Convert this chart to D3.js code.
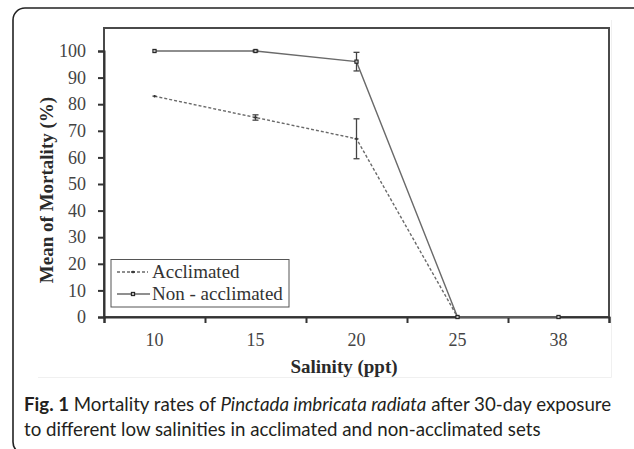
<!DOCTYPE html>
<html>
<head>
<meta charset="utf-8">
<script src="https://cdn.jsdelivr.net/npm/d3@7"></script>
<style>
  body { margin: 0; background: #fff; }
  svg { display: block; }
</style>
</head>
<body>
<div id="chart"></div>
<script>
// data
var salinity = ['10', '15', '20', '25', '38'];
var acclimated = [83, 75, 67, 0, null];
var acclimatedErr = [0, 1, 7.5, 0, null];
var nonAcclimated = [100, 100, 96, 0, 0];
var nonAcclimatedErr = [0, 0.3, 3.5, 0, 0];
var yTicks = [0, 10, 20, 30, 40, 50, 60, 70, 80, 90, 100];
var seriesNames = ['Acclimated', 'Non - acclimated'];

var width = 634, height = 449;
var margin = {top: 28, right: 25, bottom: 132, left: 104};

var svg = d3.select('#chart').append('svg')
    .attr('width', width)
    .attr('height', height);

// outer rounded figure box (runs off the right edge like the source)
svg.append('rect')
    .attr('x', 13).attr('y', 8)
    .attr('width', 640).attr('height', 446)
    .attr('rx', 12)
    .attr('fill', 'none')
    .attr('stroke', '#222')
    .attr('stroke-width', 1.6);

// faint edge of the embedded chart image
svg.append('path')
    .attr('d', 'M38,377.5H611.5V20')
    .attr('fill', 'none')
    .attr('stroke', '#f0f0f0')
    .attr('stroke-width', 1);

var x0 = margin.left, x1 = width - margin.right;
var y0 = height - margin.bottom, y1 = margin.top;

var xScale = d3.scaleBand().domain(salinity).range([x0, x1]).padding(0);
var xEdges = d3.scaleLinear().domain([0, salinity.length]).range([x0, x1]);
var yScale = d3.scaleLinear().domain([0, 100]).range([y0, 51]);

function cx(i) { return xScale(salinity[i]) + xScale.bandwidth() / 2; }

// plot frame
svg.append('rect')
    .attr('x', x0).attr('y', y1)
    .attr('width', x1 - x0).attr('height', y0 - y1)
    .attr('fill', 'none')
    .attr('stroke', '#4a4a4a')
    .attr('stroke-width', 2);

// y axis
var yAxis = svg.append('g')
    .attr('transform', `translate(${x0},0)`)
    .call(d3.axisLeft(yScale).tickValues(yTicks).tickSize(6).tickPadding(12));
yAxis.select('.domain').attr('stroke', '#333').attr('stroke-width', 2);
yAxis.selectAll('.tick line').attr('stroke', '#333').attr('stroke-width', 2);
yAxis.selectAll('.tick text')
    .attr('fill', '#444')
    .style('font-family', '"Liberation Serif", "Times New Roman", serif')
    .style('font-size', '18px');

// x axis: tick marks on the category edges, labels in the middle
var xTickAxis = svg.append('g')
    .attr('transform', `translate(0,${y0})`)
    .call(d3.axisBottom(xEdges).tickValues(d3.range(salinity.length + 1)).tickFormat('').tickSize(6));
xTickAxis.select('.domain').attr('stroke', '#333').attr('stroke-width', 2);
xTickAxis.selectAll('.tick line').attr('stroke', '#333').attr('stroke-width', 2);

var xLabAxis = svg.append('g')
    .attr('transform', `translate(0,${y0})`)
    .call(d3.axisBottom(xScale).tickSize(0).tickPadding(16));
xLabAxis.select('.domain').remove();
xLabAxis.selectAll('.tick text')
    .attr('fill', '#444')
    .style('font-family', '"Liberation Serif", "Times New Roman", serif')
    .style('font-size', '18px');

// axis titles
svg.append('text')
    .attr('x', 344).attr('y', 373)
    .attr('text-anchor', 'middle')
    .attr('fill', '#2a2a2a')
    .style('font-family', '"Liberation Serif", "Times New Roman", serif')
    .style('font-weight', 'bold')
    .style('font-size', '19px')
    .text('Salinity (ppt)');

svg.append('text')
    .attr('transform', 'translate(53,190) rotate(-90)')
    .attr('text-anchor', 'middle')
    .attr('fill', '#2a2a2a')
    .style('font-family', '"Liberation Serif", "Times New Roman", serif')
    .style('font-weight', 'bold')
    .style('font-size', '19px')
    .text('Mean of Mortality (%)');

// lines
function seriesPoints(vals, errs) {
    var pts = [];
    vals.forEach(function (v, i) {
        if (v !== null) pts.push({i: i, v: v, e: errs[i]});
    });
    return pts;
}
var accPts = seriesPoints(acclimated, acclimatedErr);
var nonPts = seriesPoints(nonAcclimated, nonAcclimatedErr);

var line = d3.line()
    .x(function (d) { return cx(d.i); })
    .y(function (d) { return yScale(d.v); });

svg.append('path')
    .datum(nonPts)
    .attr('d', line)
    .attr('fill', 'none')
    .attr('stroke', '#6a6a6a')
    .attr('stroke-width', 1.4);

svg.append('path')
    .datum(accPts)
    .attr('d', line)
    .attr('fill', 'none')
    .attr('stroke', '#6a6a6a')
    .attr('stroke-width', 1.4)
    .attr('stroke-dasharray', '3,2');

// error bars
function errorBars(pts) {
    var g = svg.append('g').attr('stroke', '#444').attr('stroke-width', 1.3);
    pts.filter(function (d) { return d.e > 0; }).forEach(function (d) {
        var x = cx(d.i), ya = yScale(d.v + d.e), yb = yScale(d.v - d.e);
        g.append('line').attr('x1', x).attr('x2', x).attr('y1', ya).attr('y2', yb);
        g.append('line').attr('x1', x - 3).attr('x2', x + 3).attr('y1', ya).attr('y2', ya);
        g.append('line').attr('x1', x - 3).attr('x2', x + 3).attr('y1', yb).attr('y2', yb);
    });
}
errorBars(accPts);
errorBars(nonPts);

// markers
function squareMark(g, x, y) {
    g.append('rect')
        .attr('x', x - 1.6).attr('y', y - 1.6)
        .attr('width', 3.2).attr('height', 3.2)
        .attr('fill', '#bbb')
        .attr('stroke', '#222')
        .attr('stroke-width', 1.1);
}
function plusMark(g, x, y) {
    g.append('path')
        .attr('d', `M${x - 2},${y}H${x + 2}M${x},${y - 1.2}V${y + 1.2}`)
        .attr('stroke', '#333')
        .attr('stroke-width', 1.3);
}
var markG = svg.append('g');
accPts.forEach(function (d) { plusMark(markG, cx(d.i), yScale(d.v)); });
nonPts.forEach(function (d) { squareMark(markG, cx(d.i), yScale(d.v)); });

// legend
var legend = svg.append('g');
legend.append('rect')
    .attr('x', 111).attr('y', 259.5)
    .attr('width', 178).attr('height', 47.5)
    .attr('fill', '#fff')
    .attr('stroke', '#555')
    .attr('stroke-width', 1);
var legY = [272, 294];
legend.append('line')
    .attr('x1', 117).attr('x2', 148).attr('y1', legY[0]).attr('y2', legY[0])
    .attr('stroke', '#6a6a6a').attr('stroke-width', 1.3).attr('stroke-dasharray', '3,2');
plusMark(legend, 133, legY[0]);
legend.append('line')
    .attr('x1', 117).attr('x2', 150).attr('y1', legY[1]).attr('y2', legY[1])
    .attr('stroke', '#6a6a6a').attr('stroke-width', 1.3);
squareMark(legend, 133, legY[1]);
legend.selectAll('text.leg')
    .data(seriesNames)
    .enter().append('text')
    .attr('class', 'leg')
    .attr('x', 152)
    .attr('y', function (d, i) { return legY[i] + 6; })
    .attr('fill', '#333')
    .style('font-family', '"Liberation Serif", "Times New Roman", serif')
    .style('font-size', '19px')
    .text(function (d) { return d; });

// caption, sized so the first line spans the same width as the source
var cap = svg.append('g')
    .style('font-family', 'Lato, "Open Sans", sans-serif')
    .attr('fill', '#231f20');
var t1 = cap.append('text').attr('x', 24).attr('y', 411);
t1.append('tspan').style('font-weight', 'bold').text('Fig. 1');
t1.append('tspan').text(' Mortality rates of ');
t1.append('tspan').style('font-style', 'italic').text('Pinctada imbricata radiata');
t1.append('tspan').text(' after 30-day exposure');
var t2 = cap.append('text').attr('x', 24).attr('y', 436)
    .text('to different low salinities in acclimated and non-acclimated sets');

var fs = 17;
cap.style('font-size', fs + 'px');
var w1 = t1.node().getComputedTextLength();
fs = fs * 588 / w1;
cap.style('font-size', fs.toFixed(2) + 'px');
</script>
</body>
</html>
